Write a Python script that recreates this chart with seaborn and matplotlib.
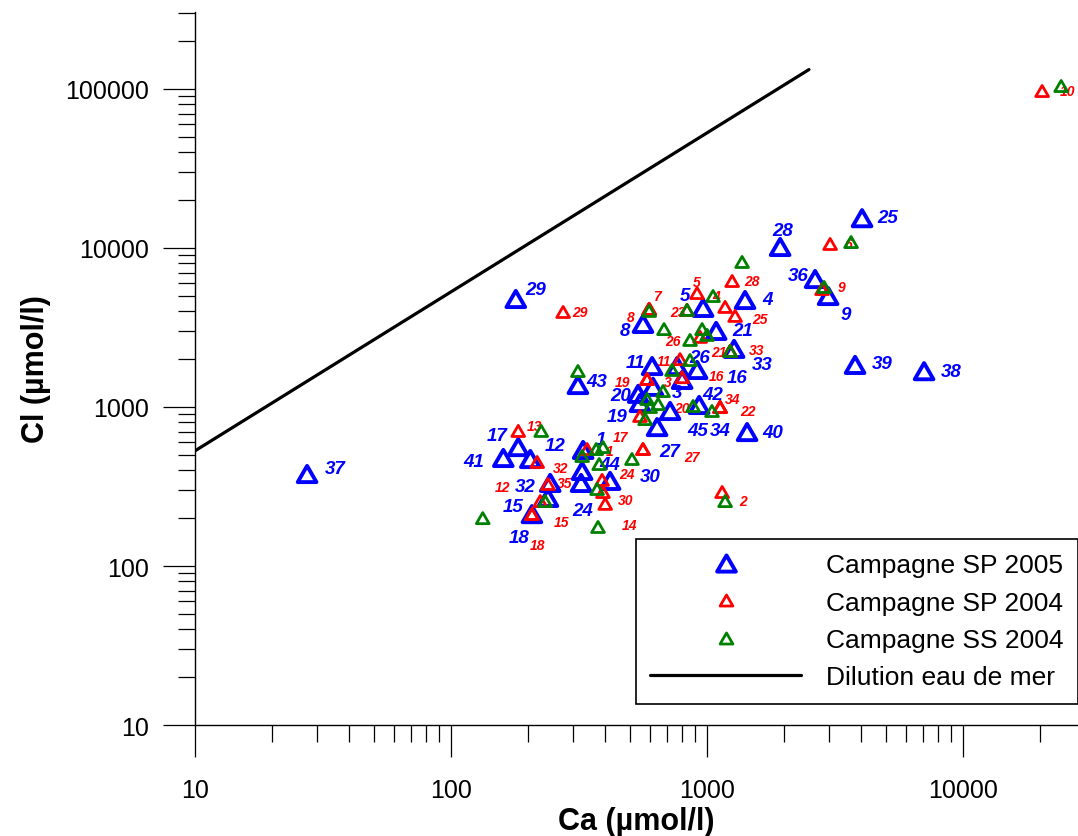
import matplotlib
matplotlib.use("Agg")
import matplotlib.pyplot as plt
import seaborn as sns
from matplotlib.lines import Line2D
from matplotlib.path import Path
from matplotlib.ticker import FixedLocator, LogLocator, NullFormatter

# ---------------- data ----------------
sp2005_id = ["37", "29", "17", "41", "12", "1", "44", "24", "30", "32", "15", "18",
             "43", "11", "26", "16", "34", "3", "20", "19", "45", "27", "42", "40",
             "33", "21", "4", "5", "8", "28", "36", "9", "25", "39", "38"]
sp2005_ca = [27.4, 179, 183, 160, 204, 328, 325, 322, 418, 244, 239, 207,
             313, 610, 764, 914, 799, 615, 538, 547, 717, 638, 931, 1433,
             1275, 1085, 1407, 965, 562, 1929, 2642, 2970, 4030, 3785, 7040]
sp2005_cl = [379, 4780, 560, 478, 471, 537, 396, 333, 343, 333, 268, 212,
             1375, 1810, 1810, 1710, 1480, 1340, 1210, 1060, 944, 748, 1030, 696,
             2320, 3010, 4710, 4200, 3330, 10150, 6380, 4990, 15400, 1840, 1680]

sp2004_id = ["10", "29", "13", "12", "32", "35", "15", "18", "1", "17", "27", "24",
             "14", "30", "2", "7", "8", "23", "", "5", "4", "25", "28", "26",
             "21", "33", "11", "16", "19", "3", "20", "34", "22", "", "6", "9"]
sp2004_ca = [20350, 274, 183, 217, 239, 223, 207, 207, 340, 562, 562, 389,
             392, 400, 1145, 594, 594, 594, 835, 914, 1176, 1287, 1253, 939,
             1230, 1230, 784, 799, 583, 583, 1124, 1124, 1124, 547, 3024, 2813]
sp2004_cl = [97100, 3960, 707, 451, 328, 256, 212, 212, 544, 544, 544, 348,
             292, 246, 292, 4140, 4140, 4140, 4080, 5210, 4260, 3740, 6200, 2760,
             2250, 2250, 2000, 1540, 1500, 1500, 1000, 1000, 1000, 878, 10600, 5520]

ss2004_ca = [24150, 3650, 1370, 2864, 1055, 594, 835, 679, 956, 1000, 858, 858,
             1230, 730, 313, 673, 583, 599, 644, 573, 882, 1045, 225, 369,
             392, 325, 379, 509, 372, 233, 133, 375, 1176]
ss2004_cl = [104400, 10900, 8170, 5690, 4990, 4020, 4080, 3090, 3090, 2840, 2640, 1975,
             2250, 1710, 1684, 1260, 1123, 1000, 1044, 840, 1015, 944, 707, 544,
             560, 492, 438, 471, 305, 256, 200, 176, 256]

dilution_ca = [10, 2500]
dilution_cl = [530, 132500]

x_ticks = [10, 100, 1000, 10000]
x_tick_labels = ["10", "100", "1000", "10000"]
y_ticks = [10, 100, 1000, 10000, 100000]
y_tick_labels = ["10", "100", "1000", "10000", "100000"]

legend_labels = ["Campagne SP 2005", "Campagne SP 2004", "Campagne SS 2004",
                 "Dilution eau de mer"]

# ------------- label layout (pixel offsets of label centre from marker) -------------
sp2005_off = [(28, -5), (20, -9), (-21, -12), (-30, 4), (25, -13), (18, -10), (28, -6),
              (2, 28), (40, -4), (-25, 4), (-35, 9), (-13, 23), (19, -4), (-17, -4),
              (23, -9), (40, 8), (38, 51), (24, 6), (-17, 2), (-23, 14), (28, 20),
              (13, 24), (14, -10), (26, 0), (28, 16), (27, 0), (22, 0), (-18, -12),
              (-18, 7), (3, -16), (-17, -4), (18, 19), (26, -1), (27, -1), (27, 0)]
sp2004_off = [(25, 0), (17, 0), (16, -5), (-35, 25), (13, -16), (24, -18), (30, 8),
              (6, 31), (23, 2), (-22, -12), (49, 8), (25, -6), (27, 33), (20, -4),
              (21, 9), (8, -13), (-18, 8), (29, 3), (0, 0), (0, -11), (-9, -11),
              (25, 3), (20, 0), (-27, 4), (-11, 1), (27, -1), (-16, 2), (34, -1),
              (-25, 3), (21, 3), (-38, 1), (13, -8), (28, 4), (0, 0), (18, 0), (19, -2)]

# ---------------- figure ----------------
sns.set_theme(style="white")
plt.rcParams['font.family'] = ['Liberation Sans', 'DejaVu Sans']
plt.rcParams['text.color'] = 'black'
plt.rcParams['axes.labelcolor'] = 'black'
plt.rcParams['xtick.color'] = 'black'
plt.rcParams['ytick.color'] = 'black'

fig = plt.figure(figsize=(10.78, 8.37), dpi=100)
ax = fig.add_axes([0.1809, 0.1326, 0.8191, 0.8519])
ax.set_xscale('log')
ax.set_yscale('log')

# closed equilateral triangle marker, centred on its bounding box
tri = Path([(-1, -0.866), (1, -0.866), (0, 0.866), (-1, -0.866)], closed=True)

sns.lineplot(x=dilution_ca, y=dilution_cl, color='black', lw=2.3, ax=ax, zorder=2)

BLUE, RED, GREEN = '#0000ff', '#ff0000', '#008000'
big_ms, big_lw = 13.5, 2.8
small_ms, small_lw = 9.2, 2.0

sns.scatterplot(x=sp2005_ca, y=sp2005_cl, marker=tri, s=big_ms ** 2, facecolor='none',
                edgecolor=BLUE, linewidth=big_lw, ax=ax, zorder=4, legend=False)
sns.scatterplot(x=sp2004_ca, y=sp2004_cl, marker=tri, s=small_ms ** 2, facecolor='none',
                edgecolor=RED, linewidth=small_lw, ax=ax, zorder=5, legend=False)
sns.scatterplot(x=ss2004_ca, y=ss2004_cl, marker=tri, s=small_ms ** 2, facecolor='none',
                edgecolor=GREEN, linewidth=small_lw, ax=ax, zorder=6, legend=False)

for c, v, lab, (dx, dy) in zip(sp2005_ca, sp2005_cl, sp2005_id, sp2005_off):
    ax.annotate(lab, (c, v), xytext=(dx, -dy), textcoords='offset pixels',
                ha='center', va='center', color=BLUE, fontsize=13.5,
                fontweight='bold', fontstyle='italic', zorder=3)
for c, v, lab, (dx, dy) in zip(sp2004_ca, sp2004_cl, sp2004_id, sp2004_off):
    if lab:
        ax.annotate(lab, (c, v), xytext=(dx, -dy), textcoords='offset pixels',
                    ha='center', va='center', color=RED, fontsize=10,
                    fontweight='bold', fontstyle='italic', zorder=3)

ax.set_xlim(10, 28100)
ax.set_ylim(10, 305000)

ax.xaxis.set_major_locator(FixedLocator(x_ticks))
ax.set_xticklabels(x_tick_labels)
ax.yaxis.set_major_locator(FixedLocator(y_ticks))
ax.set_yticklabels(y_tick_labels)
ax.xaxis.set_minor_locator(LogLocator(base=10, subs=range(2, 10), numticks=20))
ax.yaxis.set_minor_locator(LogLocator(base=10, subs=range(2, 10), numticks=20))
ax.xaxis.set_minor_formatter(NullFormatter())
ax.yaxis.set_minor_formatter(NullFormatter())

ax.tick_params(which='both', direction='out', bottom=True, left=True, top=False,
               right=False, color='black', width=0.9)
ax.tick_params(which='major', length=23, labelsize=18, labelcolor='black')
ax.tick_params(which='minor', length=12)
ax.tick_params(axis='x', which='major', pad=15)
ax.tick_params(axis='y', which='major', pad=10)

for s in ['top', 'right']:
    ax.spines[s].set_visible(False)
for s in ['left', 'bottom']:
    ax.spines[s].set_color('black')
    ax.spines[s].set_linewidth(1.0)
ax.grid(False)

ax.set_xlabel('Ca (µmol/l)', fontsize=22, fontweight='bold', labelpad=3, color='black')
ax.set_ylabel('Cl (µmol/l)', fontsize=22, fontweight='bold', labelpad=10, color='black')

handles = [
    Line2D([], [], marker=tri, ls='none', ms=big_ms, mew=big_lw, mfc='none', mec=BLUE),
    Line2D([], [], marker=tri, ls='none', ms=small_ms, mew=small_lw, mfc='none', mec=RED),
    Line2D([], [], marker=tri, ls='none', ms=small_ms, mew=small_lw, mfc='none', mec=GREEN),
    Line2D([], [], color='black', lw=2.3),
]
leg = ax.legend(handles, legend_labels, loc='upper left', bbox_to_anchor=(0.4994, 0.2609),
                borderaxespad=0, fontsize=19, handlelength=5.7, handletextpad=0.95,
                labelspacing=0.5, borderpad=0.55, frameon=True, fancybox=False,
                edgecolor='black', framealpha=1, labelcolor='black')
leg.get_frame().set_linewidth(1.2)
leg.set_zorder(10)

fig.savefig('out.png', dpi=100)
